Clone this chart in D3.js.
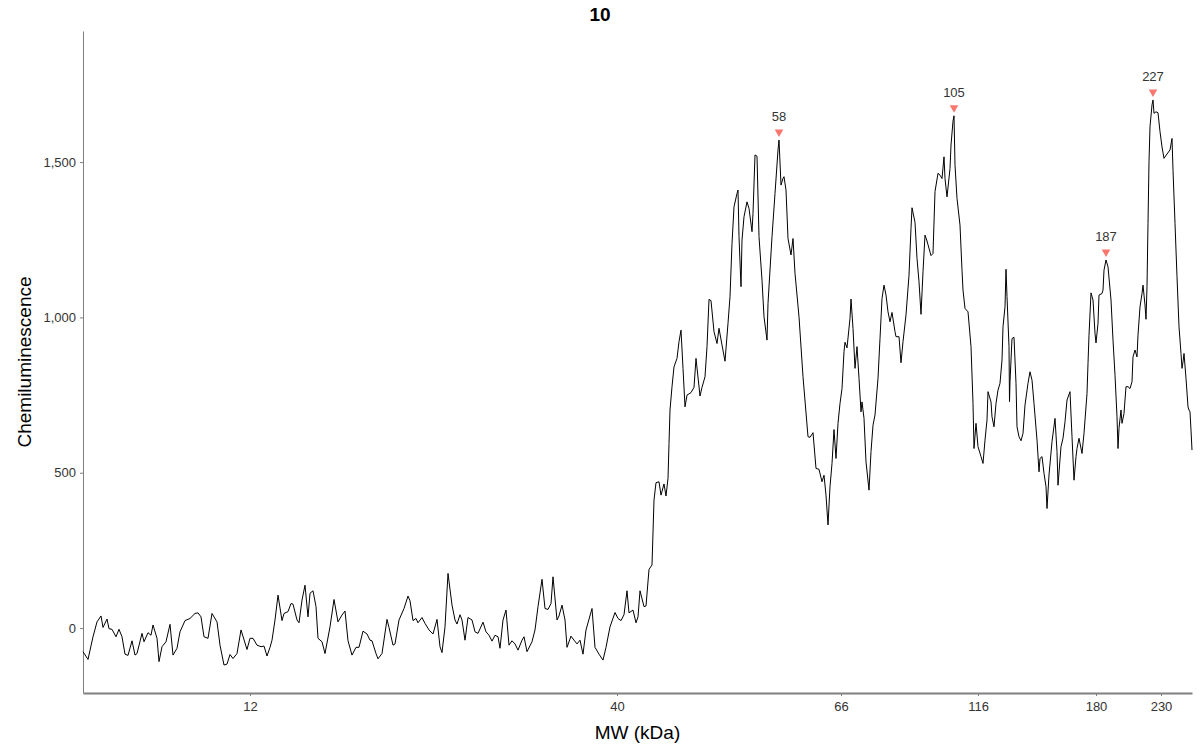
<!DOCTYPE html>
<html>
<head>
<meta charset="utf-8">
<script src="https://cdn.jsdelivr.net/npm/d3@7"></script>
<style>
  body { margin: 0; background: #fff; }
  text { font-family: "Liberation Sans", Arial, sans-serif; }
</style>
</head>
<body>
<svg id="chart"></svg>
<script>
// electropherogram trace: [migration position, chemiluminescence]
const trace = [
  [0,-76],[5,-101],[10,-28],[14,20],[18,39],[20,2],[24,29],[26,-2],[29,-4],[33,-28],[36,-4],[39,-28],[42,-84],[45,-88],
  [49,-41],[52,-87],[54,-82],[59,-17],[61,-44],[65,-15],[68,-23],[70,10],[74,-33],[76,-108],[79,-60],[83,-44],[87,12],
  [90,-87],[94,-65],[97,-12],[102,24],[107,31],[112,47],[115,49],[118,36],[121,-28],[125,-33],[129,47],[134,20],[137,-55],
  [141,-119],[144,-116],[147,-85],[150,-98],[154,-82],[158,-6],[164,-69],[167,-33],[170,-33],[174,-55],[178,-60],[181,-58],
  [184,-90],[187,-62],[189,-39],[192,26],[195,106],[199,24],[201,47],[205,53],[208,79],[210,77],[214,26],[216,17],[219,90],
  [222,138],[225,36],[227,112],[230,120],[233,69],[235,-33],[239,-44],[242,-82],[247,4],[251,92],[255,20],[259,42],[262,55],
  [265,-41],[269,-87],[273,-62],[276,-62],[280,-10],[284,-19],[287,-39],[289,-41],[293,-82],[295,-99],[299,-82],[304,28],
  [306,2],[310,-55],[312,-51],[316,26],[321,63],[325,103],[327,88],[330,24],[333,31],[335,17],[339,34],[342,15],[346,-6],
  [350,-19],[354,28],[357,-60],[359,-79],[362,4],[365,176],[369,74],[372,26],[374,13],[377,43],[379,26],[382,-39],[385,34],
  [389,26],[392,-12],[395,-17],[400,19],[403,-12],[406,-23],[409,-42],[412,-23],[415,-28],[417,-65],[420,26],[423,58],
  [426,-55],[429,-41],[432,-51],[435,-71],[439,-39],[441,-28],[444,-76],[449,-44],[452,-6],[455,69],[459,157],[462,63],
  [465,60],[468,79],[470,165],[474,26],[476,39],[479,74],[482,26],[484,-62],[488,-26],[491,-39],[494,-51],[497,-39],
  [500,-84],[503,-6],[509,63],[512,-62],[516,-84],[520,-103],[523,-62],[527,4],[532,50],[535,31],[538,24],[541,43],
  [544,120],[546,49],[550,58],[553,17],[555,36],[557,120],[561,69],[563,71],[566,189],[569,203],[571,412],[573,468],
  [576,471],[578,428],[581,464],[583,425],[585,482],[586,594],[587,702],[589,777],[591,841],[594,868],[596,922],[598,959],
  [600,836],[602,712],[604,750],[608,758],[611,775],[613,868],[617,747],[619,775],[622,809],[624,906],[626,1058],[628,1054],
  [631,954],[634,916],[636,965],[639,911],[642,859],[645,981],[647,1067],[649,1238],[651,1356],[654,1399],[655,1410],
  [656,1260],[658,1099],[659,1249],[661,1324],[664,1372],[666,1351],[669,1276],[670,1335],[672,1523],[674,1519],[676,1260],
  [679,1120],[681,1002],[684,927],[685,1045],[689,1260],[692,1399],[695,1539],[696,1571],[698,1426],[700,1448],[701,1453],
  [703,1410],[705,1254],[708,1201],[710,1254],[712,1142],[716,1002],[720,809],[725,616],[727,614],[730,629],[733,514],
  [736,511],[739,471],[741,492],[743,428],[745,332],[747,455],[749,530],[751,639],[753,546],[755,659],[757,723],[759,771],
  [761,890],[762,920],[764,902],[767,997],[768,1059],[770,965],[772,836],[774,906],[776,804],[778,696],[779,728],[781,675],
  [783,535],[786,444],[788,568],[790,653],[792,686],[795,804],[797,932],[799,1061],[801,1104],[803,1072],[805,1018],
  [807,986],[809,1016],[812,954],[813,938],[816,938],[818,854],[820,922],[823,1008],[826,1136],[828,1287],[829,1353],
  [832,1306],[834,1190],[836,1115],[838,1010],[840,1147],[842,1265],[844,1246],[848,1199],[850,1206],[852,1405],[855,1464],
  [857,1458],[859,1447],[861,1517],[862,1447],[864,1388],[867,1479],[868,1555],[870,1632],[871,1649],[872,1490],[874,1383],
  [877,1297],[879,1152],[880,1088],[882,1029],[885,1018],[888,906],[890,723],[891,578],[893,659],[895,584],[898,552],
  [900,530],[902,605],[904,670],[905,761],[908,728],[909,680],[911,648],[913,723],[915,766],[917,788],[919,863],[920,970],
  [922,1034],[923,1155],[924,1067],[926,906],[926.5,729],[927,793],[929,932],[931,936],[933,788],[934,648],[936,616],
  [938,603],[940,627],[942,718],[945,788],[947,825],[949,798],[951,723],[954,605],[956,503],[957,546],[959,552],[961,498],
  [963,455],[964,385],[966,493],[969,600],[972,675],[974,568],[975,460],[978,584],[980,611],[982,664],[984,734],[987,761],
  [989,616],[991,476],[993,552],[994,578],[996,611],[999,562],[1001,627],[1004,755],[1005,852],[1006,943],[1008,1079],
  [1010,1056],[1012,949],[1013,918],[1015,981],[1016,1072],[1019,1077],[1020,1088],[1021,1152],[1023,1185],[1025,1163],
  [1028,1056],[1030,927],[1032,814],[1034,680],[1035,578],[1036,643],[1038,702],[1039,659],[1041,691],[1043,777],[1045,777],
  [1047,771],[1049,793],[1050,873],[1052,895],[1054,873],[1055,943],[1057,1034],[1059,1077],[1060,1104],[1062,1040],
  [1063,994],[1064,1099],[1065,1303],[1066,1501],[1067,1614],[1069,1684],[1070,1700],[1071,1657],[1073,1662],[1075,1659],
  [1077,1598],[1079,1549],[1081,1512],[1084,1526],[1087,1539],[1089,1576],[1090,1474],[1092,1303],[1094,1131],[1096,970],
  [1098,884],[1099,836],[1100,857],[1101,884],[1103,804],[1105,712],[1106,702],[1107,696],[1108,637],[1109,573]
];

// MW ladder ticks (position on the trace -> kDa label)
const tickPositions = [167, 534, 758, 895, 1013, 1078];
const tickLabels = ["12", "40", "66", "116", "180", "230"];

const yTicks = [0, 500, 1000, 1500];

// called peaks
const peakLabels = ["58", "105", "187", "227"];
const peakPositions = [696, 871, 1023, 1070];
const peakValues = [1571, 1649, 1185, 1700];

const W = 1200, H = 750;
const margin = { top: 31, right: 8, bottom: 57, left: 83 };

const svg = d3.select("#chart").attr("width", W).attr("height", H);

const x = d3.scaleLinear().domain([0, 1109]).range([margin.left, W - margin.right]);
const y = d3.scaleLinear().domain([-209, 1922]).range([H - margin.bottom, margin.top]);

const axisColor = "#808080";

// x axis
const gx = svg.append("g")
    .attr("transform", `translate(0,${H - margin.bottom})`)
    .call(d3.axisBottom(x).tickValues(tickPositions).tickFormat((d, i) => tickLabels[i]).tickSize(3).tickSizeOuter(0));
gx.select(".domain").attr("stroke", axisColor).attr("stroke-width", 2);
gx.selectAll(".tick line").attr("stroke", axisColor);
gx.selectAll(".tick text").attr("fill", "#333").style("font-size", "13px").attr("dy", "0.95em");

// y axis
const gy = svg.append("g")
    .attr("transform", `translate(${margin.left},0)`)
    .call(d3.axisLeft(y).tickValues(yTicks).tickFormat(d3.format(",")).tickSize(3).tickSizeOuter(0));
gy.select(".domain").attr("stroke", axisColor);
gy.selectAll(".tick line").attr("stroke", axisColor);
gy.selectAll(".tick text").attr("fill", "#333").style("font-size", "13px").attr("x", -7);

// trace
const line = d3.line().x(d => x(d[0])).y(d => y(d[1]));
svg.append("path")
    .datum(trace)
    .attr("fill", "none")
    .attr("stroke", "#000")
    .attr("stroke-width", 1)
    .attr("d", line);

// peak markers + labels
const peaks = peakLabels.map((label, i) => ({ label, pos: peakPositions[i], value: peakValues[i] }));
const tri = d3.symbol().type(d3.symbolTriangle).size(32);
svg.selectAll(".peak")
    .data(peaks)
    .enter().append("path")
    .attr("class", "peak")
    .attr("d", tri)
    .attr("fill", "#F8766D")
    .attr("transform", d => `translate(${x(d.pos)},${y(d.value) - 8}) rotate(180)`);

svg.selectAll(".peak-label")
    .data(peaks)
    .enter().append("text")
    .attr("class", "peak-label")
    .attr("x", d => x(d.pos))
    .attr("y", d => y(d.value) - 19)
    .attr("text-anchor", "middle")
    .attr("fill", "#333")
    .style("font-size", "13px")
    .text(d => d.label);

// titles
svg.append("text")
    .attr("x", W / 2)
    .attr("y", 21)
    .attr("text-anchor", "middle")
    .style("font-size", "19px")
    .style("font-weight", "bold")
    .text("10");

svg.append("text")
    .attr("x", (margin.left + W - margin.right) / 2)
    .attr("y", 739)
    .attr("text-anchor", "middle")
    .style("font-size", "19px")
    .text("MW (kDa)");

svg.append("text")
    .attr("transform", `translate(31,${(margin.top + H - margin.bottom) / 2}) rotate(-90)`)
    .attr("text-anchor", "middle")
    .style("font-size", "19px")
    .text("Chemiluminescence");
</script>
</body>
</html>
